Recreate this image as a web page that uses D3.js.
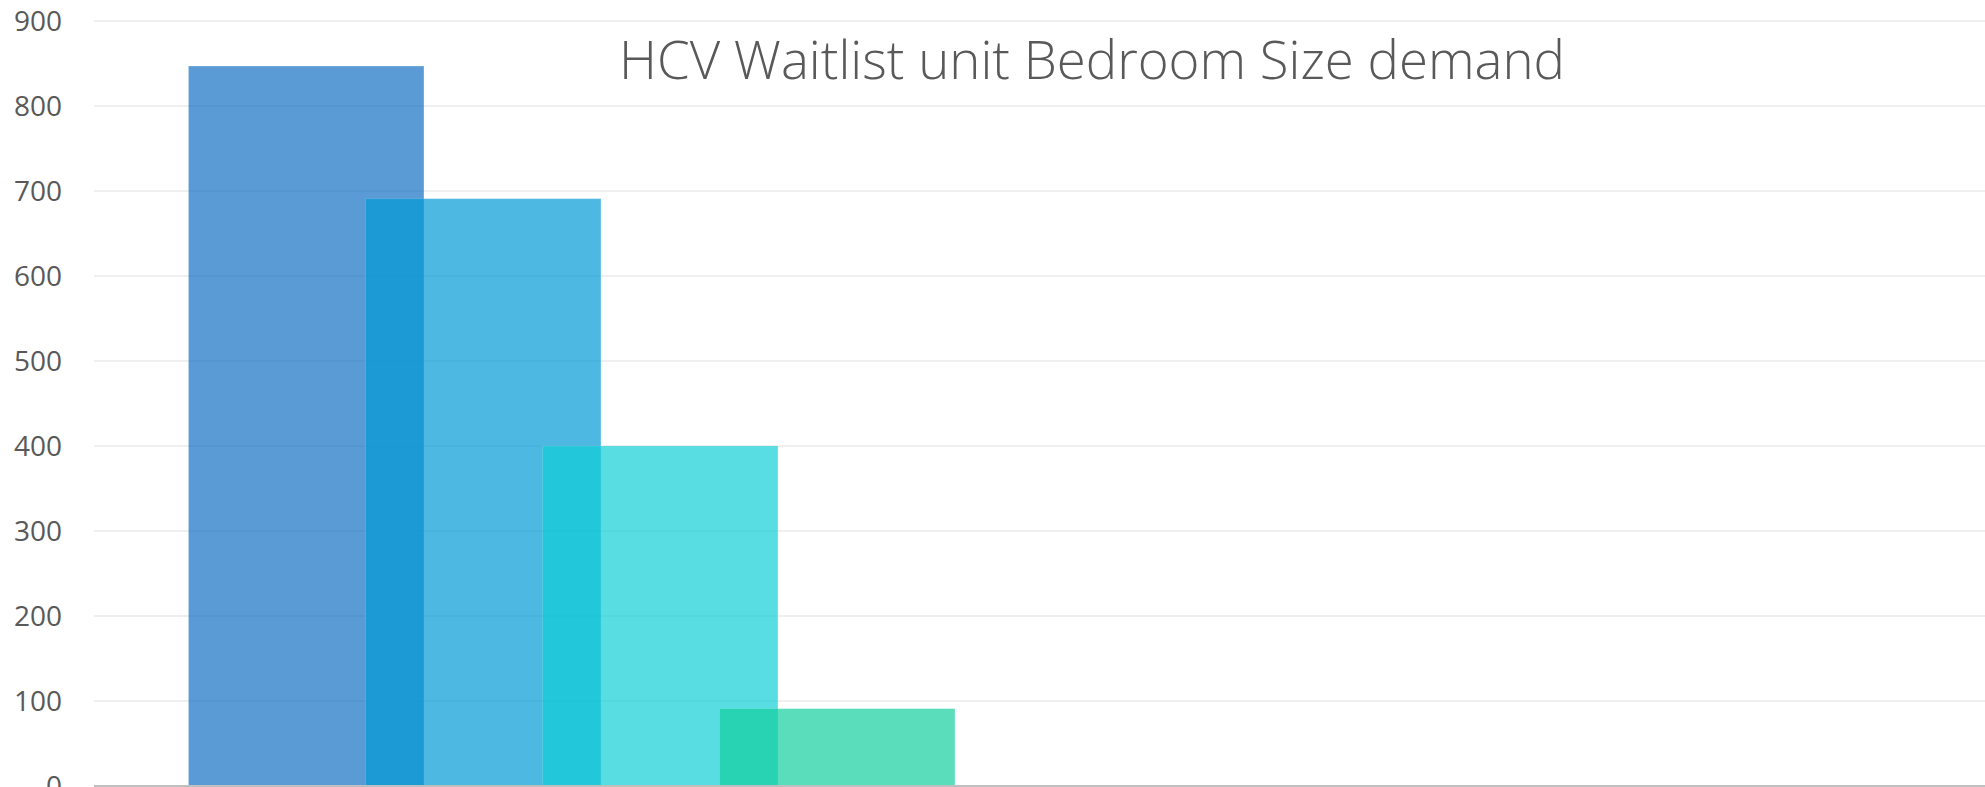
<!DOCTYPE html>
<html>
<head>
<meta charset="utf-8">
<script src="https://cdn.jsdelivr.net/npm/d3@7"></script>
<style>
  html, body { margin: 0; padding: 0; background: #fff; }
  svg { display: block; }
</style>
</head>
<body>
<div id="chart"></div>
<script>
// bedroom size series (one category, overlapping columns)
var seriesNames = ["1 BR", "2 BR", "3 BR", "4 BR"];
var seriesValues = [847, 691, 400, 91];
var seriesColors = ["#1570C3", "#029AD6", "#0FCED6", "#13CE9E"];
var yTicks = [0, 100, 200, 300, 400, 500, 600, 700, 800, 900];
var chartTitle = "HCV Waitlist unit Bedroom Size demand";

(function () {
  'use strict';
  var width = 1985, height = 787;

  var svg = d3.select("#chart").append("svg")
    .attr("width", width)
    .attr("height", height);

  var y = d3.scaleLinear().domain([0, 900]).range([786, 21]);

  // bars overlap: each bar is wider than the band step
  var x = d3.scaleBand()
    .domain(seriesNames)
    .range([188.5, 188.5 + 177 * seriesNames.length])
    .padding(0);
  var barWidth = x.step() * 1.33;

  // gridlines
  svg.append("g")
    .selectAll("line")
    .data(yTicks.filter(function (d) { return d > 0; }))
    .enter().append("line")
    .attr("x1", 94)
    .attr("x2", width)
    .attr("y1", function (d) { return y(d); })
    .attr("y2", function (d) { return y(d); })
    .style("stroke", "#EFEFEF")
    .style("stroke-width", 2);

  // y labels
  svg.append("g")
    .selectAll("text")
    .data(yTicks)
    .enter().append("text")
    .attr("x", 62)
    .attr("y", function (d) { return y(d); })
    .attr("dy", ".36em")
    .style("text-anchor", "end")
    .style("font-family", "'Open Sans', sans-serif")
    .style("font-size", "28px")
    .style("fill", "#595959")
    .text(function (d) { return d; });

  // bars
  svg.append("g")
    .selectAll("rect")
    .data(seriesValues)
    .enter().append("rect")
    .attr("x", function (d, i) { return x(seriesNames[i]); })
    .attr("y", function (d) { return y(d); })
    .attr("width", barWidth)
    .attr("height", function (d) { return y(0) - y(d); })
    .style("fill", function (d, i) { return seriesColors[i]; })
    .style("fill-opacity", 0.7)
    .style("stroke", "#ffffff")
    .style("stroke-opacity", 0.15)
    .style("stroke-width", 1);

  // baseline
  svg.append("line")
    .attr("x1", 94)
    .attr("x2", width)
    .attr("y1", y(0))
    .attr("y2", y(0))
    .style("stroke", "#BFBFBF")
    .style("stroke-width", 2);

  // title
  svg.append("text")
    .attr("x", 619)
    .attr("y", 79)
    .attr("textLength", 946)
    .attr("lengthAdjust", "spacingAndGlyphs")
    .style("font-family", "'Open Sans', sans-serif")
    .style("font-weight", 300)
    .style("font-size", "53px")
    .style("fill", "#595959")
    .text(chartTitle);
})();
</script>
</body>
</html>
